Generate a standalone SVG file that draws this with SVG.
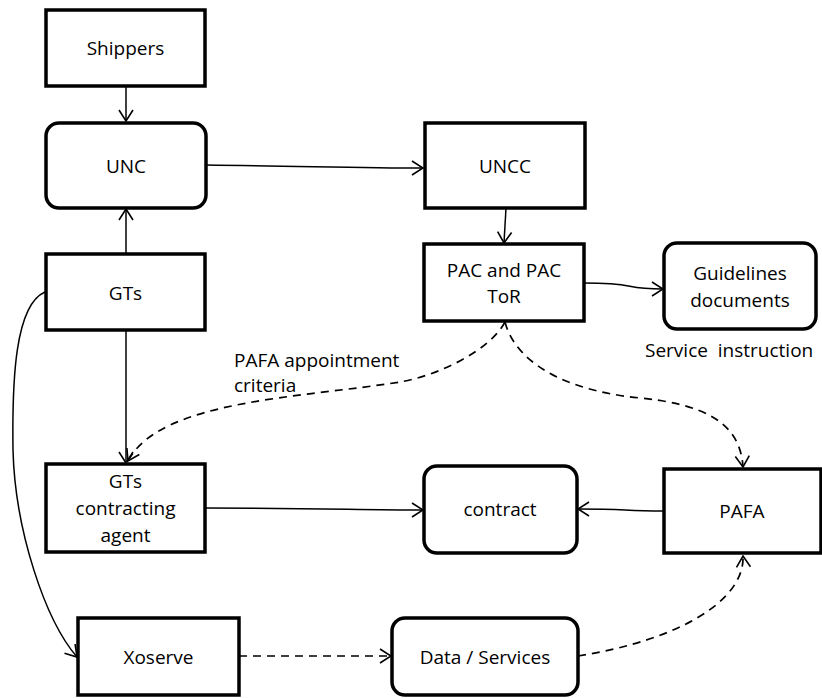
<svg xmlns="http://www.w3.org/2000/svg" width="822" height="698" viewBox="0 0 822 698">
<style>
.box{fill:#fff;stroke:#000;stroke-width:3.5}
.t{font-family:"Open Sans","Noto Sans",sans-serif;font-size:19px;fill:#000;text-anchor:middle}
.l{font-family:"Open Sans","Noto Sans",sans-serif;font-size:19px;fill:#000}
.c{fill:none;stroke:#000;stroke-width:1.5}
.d{stroke-dasharray:8 6;stroke-width:1.7}
</style>
<defs>
<marker id="a" markerUnits="userSpaceOnUse" viewBox="0 0 13 16" markerWidth="13" markerHeight="16" refX="12" refY="8" orient="auto">
<path d="M1,1 L12,8 L1,15" fill="none" stroke="#000" stroke-width="1.6"/>
</marker>
</defs>
<g id="connectors">
<path class="c" d="M126,87 L126,121" marker-end="url(#a)"/>
<path class="c" d="M206,165 C300,166 360,168 423,168" marker-end="url(#a)"/>
<path class="c" d="M506,208 L504,243" marker-end="url(#a)"/>
<path class="c" d="M126,254 L126,209" marker-end="url(#a)"/>
<path class="c" d="M584,283 C640,283 620,289 663,289" marker-end="url(#a)"/>
<path class="c" d="M126,330 L126,463" marker-end="url(#a)"/>
<path class="c d" d="M505,322 C490,350 440,375 400,382 C300,398 160,400 128,461" marker-end="url(#a)"/>
<path class="c d" d="M505,322 C515,360 560,390 640,398 C700,404 740,420 743,467" marker-end="url(#a)"/>
<path class="c" d="M45,292 C15,305 12,380 13,450 C15,530 45,620 77,657" marker-end="url(#a)"/>
<path class="c" d="M205,508 C320,508 360,510 423,510" marker-end="url(#a)"/>
<path class="c" d="M664,511 C620,511 630,509 578,509" marker-end="url(#a)"/>
<path class="c d" d="M239,656 L391,656" marker-end="url(#a)"/>
<path class="c d" d="M578,656 C680,640 745,600 743,556" marker-end="url(#a)"/>
<text class="l" x="234" y="367">PAFA appointment</text>
<text class="l" x="234" y="392">criteria</text>
<text class="l" x="645" y="357" xml:space="preserve">Service  instruction</text>
</g>
<g id="shippers"><rect class="box" x="46" y="10" width="159" height="76"/><text class="t" x="125.5" y="55">Shippers</text></g>
<g id="unc"><rect class="box" x="46" y="123" width="160" height="85" rx="13"/><text class="t" x="126" y="173">UNC</text></g>
<g id="uncc"><rect class="box" x="425" y="123" width="160" height="85"/><text class="t" x="505" y="173">UNCC</text></g>
<g id="gts"><rect class="box" x="46" y="254" width="159" height="76"/><text class="t" x="125.5" y="300">GTs</text></g>
<g id="pac"><rect class="box" x="424" y="244" width="160" height="77"/><text class="t" x="504" y="277">PAC and PAC</text><text class="t" x="504" y="303">ToR</text></g>
<g id="guidelines"><rect class="box" x="664" y="243" width="152" height="86" rx="13"/><text class="t" x="740" y="280">Guidelines</text><text class="t" x="740" y="307">documents</text></g>
<g id="gtsagent"><rect class="box" x="46" y="464" width="159" height="88"/><text class="t" x="125.5" y="488">GTs</text><text class="t" x="125.5" y="515">contracting</text><text class="t" x="125.5" y="542">agent</text></g>
<g id="contract"><rect class="box" x="424" y="466" width="153" height="87" rx="13"/><text class="t" x="500" y="516">contract</text></g>
<g id="pafa"><rect class="box" x="664" y="469" width="157" height="84"/><text class="t" x="742" y="518">PAFA</text></g>
<g id="xoserve"><rect class="box" x="78" y="618" width="161" height="77"/><text class="t" x="158.5" y="664">Xoserve</text></g>
<g id="data"><rect class="box" x="392" y="618" width="186" height="77" rx="13"/><text class="t" x="485" y="664">Data / Services</text></g>
</svg>
